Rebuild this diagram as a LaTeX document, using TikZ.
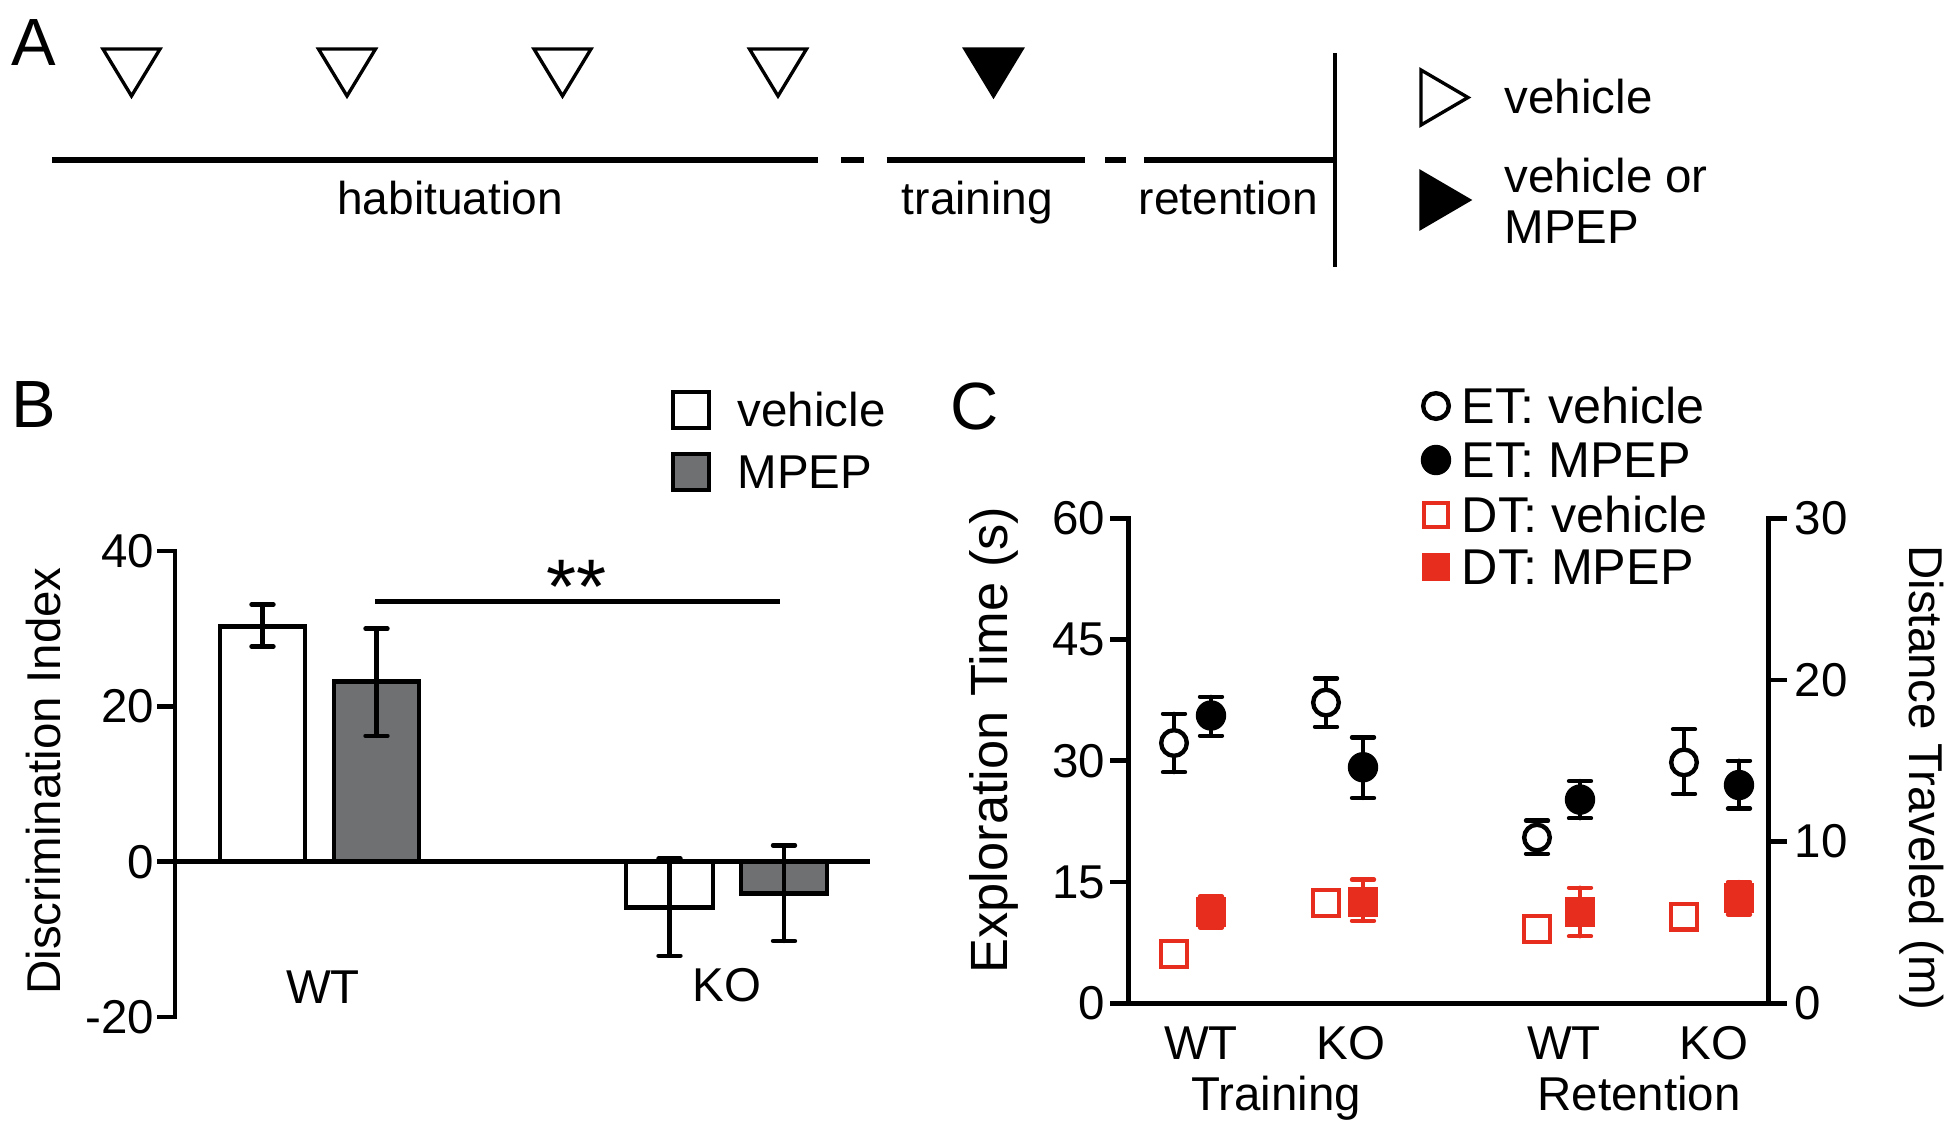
\documentclass[tikz,border=0pt]{standalone}
\usepackage{fontspec}
\setmainfont{Liberation Sans}
\definecolor{dtred}{RGB}{230,45,30}
\definecolor{barg}{RGB}{110,112,113}
\newcommand\myerr[4][black]{\draw[eb,#1] (#2-11,#3) -- (#2+11,#3) (#2,#3) -- (#2,#4) (#2-11,#4) -- (#2+11,#4);}
\newcommand\opc[2]{\draw[line width=1.25pt, fill=white] (#1,#2) circle[radius=0.128cm];}
\newcommand\flc[2]{\fill (#1,#2) circle[radius=0.152cm];}
\newcommand\osq[2]{\draw[line width=1.25pt, draw=dtred, fill=white] (#1,#2) ++(-0.128cm,-0.128cm) rectangle ++(0.256cm,0.256cm);}
\newcommand\fsq[2]{\fill[dtred] (#1,#2) ++(-0.15cm,-0.15cm) rectangle ++(0.3cm,0.3cm);}
\begin{document}
\begin{tikzpicture}[x=0.01cm,y=-0.01cm,
  txt/.style={inner sep=0pt, font=\fontsize{13.5}{16}\selectfont},
  atxt/.style={inner sep=0pt, font=\fontsize{13.1}{16}\selectfont},
  legtxt/.style={inner sep=0pt, font=\fontsize{14.3}{17}\selectfont},
  panel/.style={inner sep=0pt, font=\fontsize{19}{22}\selectfont},
  axisl/.style={line width=1.35pt},
  tline/.style={line width=1.85pt},
  tri/.style={line width=0.95pt, line join=miter},
  barl/.style={line width=1.3pt},
  eb/.style={line width=1.25pt, line cap=round},
]
\useasboundingbox (0,0) rectangle (1950,1130);
\fill[white] (0,0) rectangle (1950,1130);

% ---------------- Panel A ----------------
\node[panel] (labA) at (34,43) {A};
\foreach \c in {131.5,347,562.5,778}
  \draw[tri] (\c-28.5,49) -- (\c+28.5,49) -- (\c,96) -- cycle;
\filldraw[tri] (993.5-28.5,49) -- (993.5+28.5,49) -- (993.5,96) -- cycle;
\draw[tline] (52,160) -- (818,160) (841,160) -- (864,160) (886.5,160) -- (1085,160)
  (1105,160) -- (1125.5,160) (1144,160) -- (1335,160);
\draw[line width=1.2pt] (1335,53) -- (1335,267);
\node[atxt, anchor=base] (hab) at (450,214) {habituation};
\node[atxt, anchor=base] (trn) at (977.5,214) {training};
\node[atxt, anchor=base] (ret) at (1228.5,214) {retention};
\draw[tri] (1421,70) -- (1421,125) -- (1468,97.5) -- cycle;
\filldraw[tri] (1421,172) -- (1421,228) -- (1469,200) -- cycle;
\node[txt, anchor=base west] (lv) at (1504,113) {vehicle};
\node[txt, anchor=base west] (lvm1) at (1504,192) {vehicle or};
\node[txt, anchor=base west] (lvm2) at (1504,243) {MPEP};

% ---------------- Panel B ----------------
\node[panel] (labB) at (34,405) {B};
\draw[barl, fill=white] (673,392) rectangle (709,428);
\draw[barl, fill=barg] (673,454) rectangle (709,490);
\node[txt, anchor=west] (bl1) at (737,410) {vehicle};
\node[txt, anchor=west] (bl2) at (737,472) {MPEP};
\node[txt, rotate=90] (ylB) at (44,781) {Discrimination Index};
\begin{scope}[shift={(0,861.7)}, y=0.07765cm]
  \draw[axisl] (157,40) -- (175,40) -- (175,-20) -- (157,-20);
  \draw[axisl] (157,20) -- (175,20) (157,0) -- (870,0);
  \draw[barl, fill=white] (220,0) rectangle (305,30.3);
  \draw[barl, fill=barg] (334,0) rectangle (419,23.2);
  \draw[barl, fill=white] (626,0) rectangle (713,-5.9);
  \draw[barl, fill=barg] (741,0) rectangle (827,-4.1);
  \myerr{262.5}{27.7}{33.1}
  \myerr{376.5}{16.2}{30.0}
  \myerr{669.5}{-12.1}{0.4}
  \myerr{784}{-10.2}{2.1}
  \draw[line width=1.2pt] (375,33.5) -- (780,33.5);
  \node[txt, anchor=east] (b40) at (155,40) {40};
  \node[txt, anchor=east] (b20) at (155,20) {20};
  \node[txt, anchor=east] (b0) at (155,0) {0};
  \node[txt, anchor=east] (bm20) at (155,-20) {-20};
\end{scope}
\node[inner sep=0pt, font=\fontsize{22}{24}\selectfont, anchor=base] (sig) at (577,613) {**};
\node[txt, anchor=base] (bwt) at (323,1003) {WT};
\node[txt, anchor=base] (bko) at (727,1001) {KO};

% ---------------- Panel C ----------------
\node[panel] (labC) at (975,406) {C};
\opc{1436}{406}
\flc{1436}{460}
\draw[line width=1.2pt, draw=dtred, fill=white] (1424,503) rectangle (1448,527);
\fill[dtred] (1422,553) rectangle (1450,581);
\node[legtxt, anchor=west] (c1) at (1461,406) {ET: vehicle};
\node[legtxt, anchor=west] (c2) at (1461,460) {ET: MPEP};
\node[legtxt, anchor=west] (c3) at (1461,515) {DT: vehicle};
\node[legtxt, anchor=west] (c4) at (1461,567) {DT: MPEP};
\node[inner sep=0pt, font=\fontsize{14.9}{17}\selectfont, rotate=90] (ylC) at (994,740) {Exploration Time (s)};
\node[txt, rotate=-90] (yrC) at (1922,778) {Distance Traveled (m)};
\begin{scope}[shift={(0,1003.3)}, y=0.0808cm]
  \draw[axisl] (1110,60) -- (1128.5,60) -- (1128.5,0) -- (1768.5,0) -- (1768.5,60) -- (1786.5,60);
  \draw[axisl] (1110,45) -- (1128.5,45) (1110,30) -- (1128.5,30) (1110,15) -- (1128.5,15)
    (1110,0) -- (1128.5,0) (1768.5,40) -- (1786.5,40) (1768.5,20) -- (1786.5,20) (1768.5,0) -- (1786.5,0);
  \foreach \v in {60,45,30,15,0}
    \node[txt, anchor=east] (cl\v) at (1106,\v) {\v};
  \node[txt, anchor=west] (cr30) at (1794,60) {30};
  \node[txt, anchor=west] (cr20) at (1794,40) {20};
  \node[txt, anchor=west] (cr10) at (1794,20) {10};
  \node[txt, anchor=west] (cr0) at (1794,0) {0};
  % ET error bars
  \myerr{1174}{28.6}{35.8}
  \myerr{1211}{33.1}{37.9}
  \myerr{1326}{34.2}{40.2}
  \myerr{1363}{25.4}{32.9}
  \myerr{1537}{18.5}{22.6}
  \myerr{1580}{22.9}{27.5}
  \myerr{1684}{25.9}{33.9}
  \myerr{1739}{24.1}{30.0}
  \opc{1174}{32.2}
  \flc{1211}{35.6}
  \opc{1326}{37.2}
  \flc{1363}{29.2}
  \opc{1537}{20.5}
  \flc{1580}{25.2}
  \opc{1684}{29.8}
  \flc{1739}{27.0}
  % DT
  \myerr[dtred]{1211}{9.4}{13.2}
  \myerr[dtred]{1363}{10.2}{15.3}
  \myerr[dtred]{1537}{7.9}{10.5}
  \myerr[dtred]{1580}{8.3}{14.3}
  \myerr[dtred]{1739}{11.0}{15.0}
  \osq{1174}{6.1}
  \fsq{1211}{11.3}
  \osq{1326}{12.4}
  \fsq{1363}{12.5}
  \osq{1537}{9.2}
  \fsq{1580}{11.3}
  \osq{1684}{10.7}
  \fsq{1739}{13.0}
\end{scope}
\node[txt, anchor=base] (cwt1) at (1201,1059) {WT};
\node[txt, anchor=base] (cko1) at (1351,1059) {KO};
\node[txt, anchor=base] (cwt2) at (1564,1059) {WT};
\node[txt, anchor=base] (cko2) at (1714,1059) {KO};
\node[txt, anchor=base] (ctr) at (1276,1110) {Training};
\node[txt, anchor=base] (cre) at (1639,1110) {Retention};
\end{tikzpicture}
\end{document}
